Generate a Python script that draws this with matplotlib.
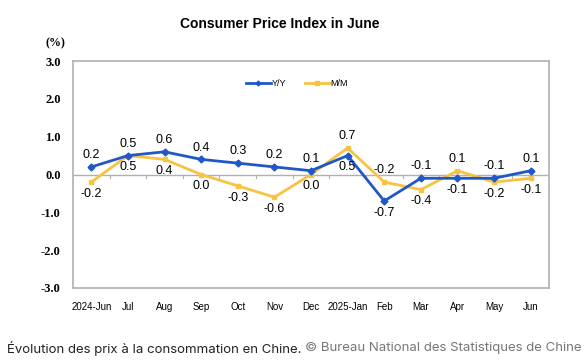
import matplotlib.pyplot as plt
import numpy as np

months = ["2024-Jun", "Jul", "Aug", "Sep", "Oct", "Nov", "Dec",
          "2025-Jan", "Feb", "Mar", "Apr", "May", "Jun"]
yoy = [0.2, 0.5, 0.6, 0.4, 0.3, 0.2, 0.1, 0.5, -0.7, -0.1, -0.1, -0.1, 0.1]
mom = [-0.2, 0.5, 0.4, 0.0, -0.3, -0.6, 0.0, 0.7, -0.2, -0.4, 0.1, -0.2, -0.1]
# label placement: 1 = above, -1 = below
yoy_side = [1, 1, 1, 1, 1, 1, 1, -1, -1, 1, -1, 1, 1]
mom_side = [-1, -1, -1, -1, -1, -1, -1, 1, 1, -1, 1, -1, -1]

blue = "#2158c8"
yellow = "#f6c343"

fig = plt.figure(figsize=(5.88, 3.61), dpi=100)
ax = fig.add_axes([73 / 588, 1 - 288 / 361, 476 / 588, 227 / 361])

x = np.arange(len(months))
ax.plot(x, yoy, color=blue, lw=2, marker="D", ms=3.5, label="Y/Y", zorder=3)
ax.plot(x, mom, color=yellow, lw=2, marker="s", ms=3.5, label="M/M", zorder=2)

for vals, sides in ((yoy, yoy_side), (mom, mom_side)):
    for i, (v, s) in enumerate(zip(vals, sides)):
        ax.annotate(f"{v:.1f}", (i, v), xytext=(0, 8.5 * s), textcoords="offset points",
                    ha="center", va="center", fontsize=9, family="Liberation Sans")

ax.set_xlim(-0.5, len(months) - 0.5)
ax.set_ylim(-3, 3)
ax.set_yticks(np.arange(-3, 3.1, 1))
ax.set_yticklabels([f"{t:.1f}" for t in np.arange(-3, 3.1, 1)],
                   family="Liberation Serif", fontweight="bold", fontsize=9)
ax.set_xticks(x)
ax.set_xticklabels(months, fontsize=7, family="Liberation Sans")
ax.tick_params(axis="x", length=0, pad=10)
ax.tick_params(axis="y", length=0, pad=9)
for sp in ax.spines.values():
    sp.set_color("#b0b0b0")
    sp.set_linewidth(1.2)

# zero line with category tick marks
ax.axhline(0, color="#b0b0b0", lw=1, zorder=1)
for b in np.arange(0.5, len(months) - 0.5):
    ax.plot([b, b], [0, -0.1], color="#b0b0b0", lw=0.8, zorder=1)

ax.legend(loc="center", bbox_to_anchor=(297 / 588, 1 - 84 / 361),
          bbox_transform=fig.transFigure, ncol=2, frameon=False,
          handlelength=2.8, handletextpad=0.1, columnspacing=2.0, markerscale=0.7,
          prop={"family": "Liberation Sans", "size": 6.5})

fig.text(280 / 588, 1 - 24 / 361, "Consumer Price Index in June", ha="center", va="center",
         fontsize=10, fontweight="bold", family="Liberation Sans")
fig.text(55 / 588, 1 - 43 / 361, "(%)", ha="center", va="center",
         fontsize=8.5, fontweight="bold", family="Liberation Serif")

t1 = fig.text(7 / 588, 1 - 348 / 361, "Évolution des prix à la consommation en Chine.",
              ha="left", va="center", fontsize=9.5, color="#222222", family="Inter")
fig.canvas.draw()
bb = t1.get_window_extent()
fig.text((bb.x1 + 4) / 588, 1 - 348 / 361, "© Bureau National des Statistiques de Chine",
         ha="left", va="center", fontsize=9.5, color="#777777", family="Inter")

fig.savefig("out.png", dpi=100)
